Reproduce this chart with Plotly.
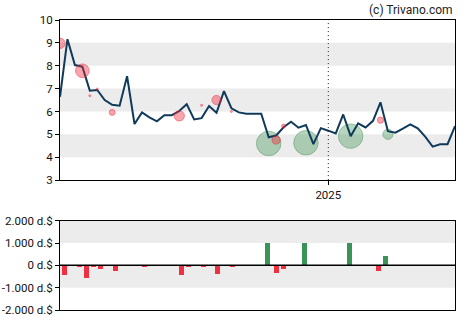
import plotly.graph_objects as go
from plotly.subplots import make_subplots

# Weekly closing prices
price_dates = [
    "2024-04-24", "2024-05-01", "2024-05-08", "2024-05-15", "2024-05-22", "2024-05-29",
    "2024-06-05", "2024-06-12", "2024-06-19", "2024-06-26", "2024-07-03", "2024-07-10",
    "2024-07-17", "2024-07-24", "2024-07-31", "2024-08-07", "2024-08-14", "2024-08-21",
    "2024-08-28", "2024-09-04", "2024-09-11", "2024-09-18", "2024-09-25", "2024-10-02",
    "2024-10-09", "2024-10-16", "2024-10-23", "2024-10-30", "2024-11-06", "2024-11-13",
    "2024-11-20", "2024-11-27", "2024-12-04", "2024-12-11", "2024-12-18", "2024-12-25",
    "2025-01-01", "2025-01-08", "2025-01-15", "2025-01-22", "2025-01-29", "2025-02-05",
    "2025-02-12", "2025-02-19", "2025-02-26", "2025-03-05", "2025-03-12", "2025-03-19",
    "2025-03-26", "2025-04-02", "2025-04-09", "2025-04-16", "2025-04-23", "2025-04-30",
]
prices = [
    6.64, 9.16, 8.03, 7.96, 6.91, 6.94, 6.50, 6.29, 6.25, 7.54, 5.45, 5.96,
    5.74, 5.57, 5.84, 5.84, 6.02, 6.32, 5.65, 5.71, 6.24, 5.94, 6.89, 6.14,
    5.96, 5.90, 5.90, 5.90, 4.87, 4.95, 5.31, 5.55, 5.29, 5.41, 4.57, 5.27,
    5.16, 5.04, 5.87, 4.92, 5.48, 5.30, 5.59, 6.40, 5.14, 5.07, 5.25, 5.44,
    5.26, 4.90, 4.46, 4.57, 4.57, 5.36,
]

# Insider trades shown as bubbles on the price chart (amount in thousand $)
sell_dates = ["2024-04-24", "2024-05-15", "2024-05-22", "2024-05-29", "2024-06-12",
              "2024-08-14", "2024-09-04", "2024-09-18", "2024-10-02", "2024-11-13",
              "2024-11-20", "2025-02-19"]
sell_prices = [8.98, 7.78, 6.69, 6.98, 5.96, 5.81, 6.27, 6.50, 6.00, 4.75, 5.36, 5.62]
sell_amounts = [420, 555, 60, 60, 240, 420, 60, 375, 50, 330, 165, 255]

buy_dates = ["2024-11-06", "2024-12-11", "2025-01-22", "2025-02-26"]
buy_prices = [4.60, 4.63, 4.92, 5.00]
buy_amounts = [1000, 1000, 1000, 415]

# Net insider flow per period (thousand $)
flow_dates = ["2024-04-28", "2024-05-12", "2024-05-19", "2024-05-25", "2024-06-01",
              "2024-06-15", "2024-07-12", "2024-08-16", "2024-08-23", "2024-09-06",
              "2024-09-19", "2024-10-03", "2024-11-05", "2024-11-13", "2024-11-20",
              "2024-12-10", "2025-01-21", "2025-02-17", "2025-02-24"]
flow_values = [-420, -60, -555, -60, -150, -240, -50, -420, -60, -60,
               -375, -50, 1000, -330, -165, 1000, 1000, -255, 415]

price_ticks = [3, 4, 5, 6, 7, 8, 9, 10]
flow_ticks = [-2000, -1000, 0, 1000, 2000]
flow_tick_text = ["-2.000 d.$", "-1.000 d.$", "0 d.$", "1.000 d.$", "2.000 d.$"]

x_start, x_end = "2024-04-24", "2025-04-30"
year_mark = "2025-01-01"

RED = "rgba(240,45,65,0.6)"
RED_EDGE = "rgba(235,40,60,0.8)"
GREEN = "rgba(50,140,70,0.5)"
GREEN_EDGE = "rgba(50,130,65,0.6)"

fig = make_subplots(rows=2, cols=1, shared_xaxes=False, vertical_spacing=0.0)

fig.add_trace(go.Scatter(
    x=buy_dates, y=buy_prices, mode="markers",
    marker=dict(size=[a * 0.0245 for a in buy_amounts], sizemode="diameter",
                color=GREEN, line=dict(color=GREEN_EDGE, width=1)),
    hoverinfo="skip", showlegend=False), row=1, col=1)

fig.add_trace(go.Scatter(
    x=price_dates, y=prices, mode="lines",
    line=dict(color="#0f3a5a", width=2),
    showlegend=False), row=1, col=1)

fig.add_trace(go.Scatter(
    x=sell_dates, y=sell_prices, mode="markers",
    marker=dict(size=[max(a * 0.0245, 2) for a in sell_amounts], sizemode="diameter",
                color=RED, line=dict(color=RED_EDGE, width=1)),
    hoverinfo="skip", showlegend=False), row=1, col=1)

bar_colors = ["#3a9458" if v > 0 else "#f0303f" for v in flow_values]
fig.add_trace(go.Bar(
    x=flow_dates, y=flow_values, marker=dict(color=bar_colors, line=dict(width=0)),
    width=[4.7 * 86400000] * len(flow_values), showlegend=False), row=2, col=1)

# Alternating grey bands
for lo in (4, 6, 8):
    fig.add_shape(type="rect", xref="x domain", yref="y", x0=0, x1=1, y0=lo, y1=lo + 1,
                  fillcolor="#ececec", line=dict(width=0), layer="below")
for lo in (-1000, 1000):
    fig.add_shape(type="rect", xref="x2 domain", yref="y2", x0=0, x1=1, y0=lo, y1=lo + 1000,
                  fillcolor="#ececec", line=dict(width=0), layer="below")

# Year separator
fig.add_shape(type="line", xref="x", yref="y domain", x0=year_mark, x1=year_mark, y0=0, y1=1,
              line=dict(color="#222", width=1, dash="1px,3px"))
# Zero line of the flow panel
fig.add_shape(type="line", xref="x2 domain", yref="y2", x0=0, x1=1, y0=0, y1=0,
              line=dict(color="black", width=1.5))

axis_common = dict(showline=True, linecolor="black", linewidth=1, mirror=True,
                   showgrid=False, zeroline=False, tickcolor="black", automargin=False,
                   tickfont=dict(size=11.5))

fig.update_xaxes(**axis_common, ticks="outside", ticklen=4, range=[x_start, x_end],
                 tickvals=[year_mark], ticktext=["2025"], domain=[0, 1], row=1, col=1)
fig.update_xaxes(**axis_common, ticks="", range=[x_start, x_end], showticklabels=False,
                 domain=[0, 1], row=2, col=1)
fig.update_yaxes(**axis_common, ticks="outside", ticklen=4, range=[3, 10],
                 tickvals=price_ticks, domain=[0.448, 1.0], row=1, col=1)
fig.update_yaxes(**axis_common, ticks="outside", ticklen=4, range=[-2000, 2000],
                 tickvals=flow_ticks, ticktext=flow_tick_text, domain=[0, 0.308],
                 row=2, col=1)

fig.add_annotation(text="(c) Trivano.com", xref="paper", yref="paper", x=1.0, y=1.0,
                   xanchor="right", yanchor="bottom", yshift=1, showarrow=False,
                   font=dict(size=12, color="#222"))

fig.update_layout(
    width=470, height=325,
    margin=dict(l=60, r=15, t=20, b=15),
    paper_bgcolor="white", plot_bgcolor="white",
    font=dict(family="Roboto, Arial, sans-serif", size=12, color="#111"),
    bargap=0,
)

fig.write_html("out.html")
